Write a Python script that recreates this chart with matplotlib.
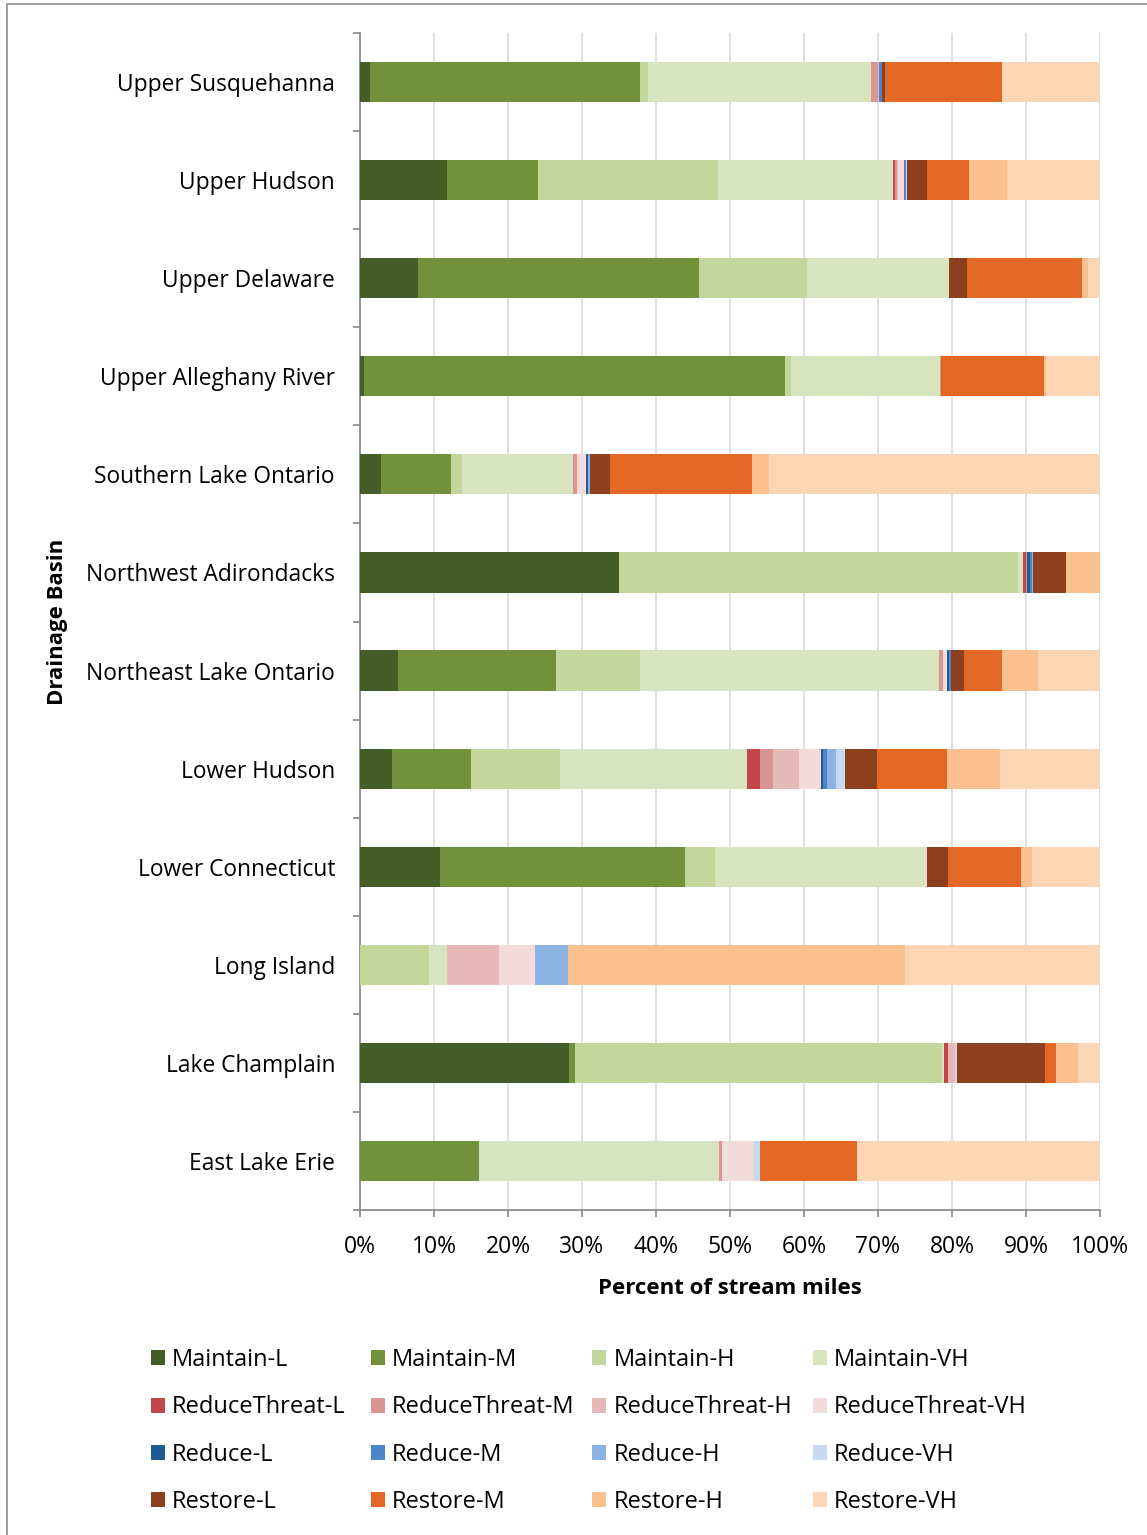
import numpy as np
import matplotlib.pyplot as plt
from matplotlib.patches import Patch, Rectangle

plt.rcParams['font.family'] = ['Open Sans', 'DejaVu Sans']

basins = ["Upper Susquehanna", "Upper Hudson", "Upper Delaware", "Upper Alleghany River",
          "Southern Lake Ontario", "Northwest Adirondacks", "Northeast Lake Ontario",
          "Lower Hudson", "Lower Connecticut", "Long Island", "Lake Champlain", "East Lake Erie"]

# percent of stream miles per basin
maintain_l = [1.4, 11.7, 7.85, 0.5, 2.85, 35.0, 5.2, 4.3, 10.8, 0, 28.2, 0]
maintain_m = [36.5, 12.3, 38.0, 56.9, 9.4, 0, 21.3, 10.7, 33.1, 0, 0.8, 16.1]
maintain_h = [1.0, 24.4, 14.6, 0.85, 1.6, 53.9, 11.3, 12.05, 4.1, 9.3, 49.6, 0]
maintain_vh = [30.2, 23.6, 19.1, 20.1, 15.0, 0.65, 40.5, 25.2, 28.4, 2.5, 0.3, 32.4]
reducethreat_l = [0, 0.25, 0, 0, 0, 0.4, 0, 1.8, 0, 0, 0.5, 0]
reducethreat_m = [0.9, 0.3, 0, 0.2, 0.45, 0.15, 0.45, 1.8, 0, 0, 0, 0.45]
reducethreat_h = [0.1, 0.1, 0, 0, 0, 0, 0, 3.5, 0, 7.0, 1.0, 0]
reducethreat_vh = [0, 0.8, 0, 0, 1.2, 0.1, 0.6, 2.9, 0.25, 4.9, 0, 4.3]
reduce_l = [0.1, 0.1, 0, 0, 0.3, 0.35, 0.2, 0.3, 0, 0, 0, 0]
reduce_m = [0.3, 0.3, 0, 0, 0, 0.3, 0.25, 0.5, 0, 0, 0, 0]
reduce_h = [0, 0, 0, 0, 0.3, 0.1, 0, 1.3, 0, 4.4, 0, 0]
reduce_vh = [0.1, 0.1, 0, 0, 0, 0, 0, 1.2, 0, 0, 0.25, 0.8]
restore_l = [0.4, 2.7, 2.5, 0, 2.65, 4.5, 1.8, 4.3, 2.85, 0, 11.85, 0]
restore_m = [15.7, 5.7, 15.5, 13.9, 19.2, 0, 5.2, 9.5, 9.85, 0, 1.5, 13.15]
restore_h = [0, 5.1, 0.85, 0.2, 2.3, 4.5, 4.85, 7.1, 1.5, 45.5, 3.0, 0]
restore_vh = [13.3, 12.55, 1.6, 7.35, 44.75, 4.5, 8.35, 13.55, 9.15, 26.4, 3.0, 32.8]

series = [
    ("Maintain-L", maintain_l, "#455d29"),
    ("Maintain-M", maintain_m, "#71913b"),
    ("Maintain-H", maintain_h, "#c3d69b"),
    ("Maintain-VH", maintain_vh, "#d7e4bd"),
    ("ReduceThreat-L", reducethreat_l, "#c2474a"),
    ("ReduceThreat-M", reducethreat_m, "#d99594"),
    ("ReduceThreat-H", reducethreat_h, "#e6b9b8"),
    ("ReduceThreat-VH", reducethreat_vh, "#f2dcdb"),
    ("Reduce-L", reduce_l, "#1f5a92"),
    ("Reduce-M", reduce_m, "#4a86c8"),
    ("Reduce-H", reduce_h, "#8db3e2"),
    ("Reduce-VH", reduce_vh, "#c6d9f1"),
    ("Restore-L", restore_l, "#8e401e"),
    ("Restore-M", restore_m, "#e46825"),
    ("Restore-H", restore_h, "#fac090"),
    ("Restore-VH", restore_vh, "#fcd5b5"),
]

W, H = 1147, 1535
fig = plt.figure(figsize=(W / 100, H / 100), dpi=100)
fig.patches.append(Rectangle((7 / W, -0.01), 1.1, 1.01 - 4 / H, transform=fig.transFigure,
                             facecolor='none', edgecolor='#8c8c8c', linewidth=1.2))

ax = fig.add_axes([360 / W, 1 - 1210 / H, 740 / W, (1210 - 33) / H])

y = np.arange(len(basins))
left = np.zeros(len(basins))
handles = []
for name, vals, col in series:
    vals = np.array(vals, dtype=float)
    ax.barh(y, vals, left=left, height=0.41, color=col, linewidth=0, zorder=3)
    left += vals
    handles.append(Patch(facecolor=col, label=name))

ax.set_xlim(0, 100)
ax.set_ylim(len(basins) - 0.5, -0.5)
ax.set_xticks(np.arange(0, 101, 10))
ax.set_xticklabels([f"{v}%" for v in range(0, 101, 10)])
ax.set_yticks(y)
ax.set_yticklabels(basins)
ax.set_yticks(np.arange(-0.5, len(basins)), minor=True)
ax.xaxis.grid(True, color='#d9d9d9', linewidth=1.1, zorder=0)
ax.set_axisbelow(True)

for s in ['top', 'right']:
    ax.spines[s].set_visible(False)
for s in ['left', 'bottom']:
    ax.spines[s].set_color('#868686')
    ax.spines[s].set_linewidth(1.2)

ax.tick_params(axis='y', which='major', length=0, pad=18, labelsize=16.4)
ax.tick_params(axis='y', which='minor', length=5, width=1.2, color='#868686')
ax.tick_params(axis='x', which='major', length=5, width=1.2, color='#868686', pad=13, labelsize=16.5)

ax.set_xlabel("Percent of stream miles", fontsize=16, fontweight='bold', labelpad=14)
fig.text(57 / W, 1 - 622 / H, "Drainage Basin", rotation=90, ha='center', va='center',
         fontsize=16, fontweight='bold')

# legend laid out row by row, one legend per column
col_x = [151, 371, 592, 813]
for c in range(4):
    leg = fig.legend(handles=handles[c::4], loc='center left',
                     bbox_to_anchor=(col_x[c] / W, 1 - 1431 / H), frameon=False,
                     fontsize=17, handlelength=0.6, handleheight=0.6, handletextpad=0.3,
                     labelspacing=0.98, borderpad=0, borderaxespad=0)

fig.savefig("out.png", dpi=100)
